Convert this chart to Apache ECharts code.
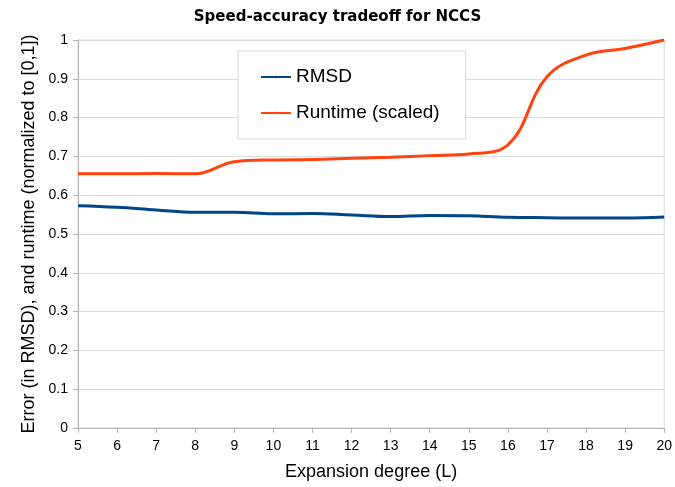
<!DOCTYPE html>
<html>
<head>
<meta charset="utf-8">
<script src="https://cdn.jsdelivr.net/npm/echarts@6/dist/echarts.min.js"></script>
<style>html,body{margin:0;padding:0;background:#fff}#c{width:675px;height:487px}</style>
</head>
<body>
<div id="c"></div>
<script>
const titleText = 'Speed-accuracy tradeoff for NCCS';
const xName = 'Expansion degree (L)';
const yName = 'Error (in RMSD), and runtime (normalized to [0,1])';
const degrees = [5, 6, 7, 8, 9, 10, 11, 12, 13, 14, 15, 16, 17, 18, 19, 20];
const rmsd = [0.573, 0.569, 0.562, 0.556, 0.556, 0.552, 0.553, 0.549, 0.545, 0.548, 0.547, 0.543, 0.542, 0.541, 0.541, 0.544];
const runtime = [0.655, 0.655, 0.656, 0.655, 0.686, 0.691, 0.692, 0.695, 0.698, 0.702, 0.706, 0.73, 0.905, 0.961, 0.978, 1.0];
const seriesNames = ['RMSD', 'Runtime (scaled)'];
const colors = ['#004586', '#ff420e'];

const chart = echarts.init(document.getElementById('c'), null, {renderer: 'canvas'});
chart.setOption({
  animation: false,
  backgroundColor: '#fff',
  title: {
    text: titleText,
    left: 'center',
    top: 3,
    textStyle: {fontFamily: "'DejaVu Sans Condensed', 'Liberation Sans', sans-serif", fontWeight: 'bold', fontSize: 16.7, color: '#000'}
  },
  grid: {left: 78, right: 10, top: 40, bottom: 59, show: true, borderColor: '#d9d9d9', borderWidth: 1, backgroundColor: 'transparent'},
  legend: {
    orient: 'vertical',
    left: 238,
    top: 51,
    padding: [16, 26, 16, 22],
    itemWidth: 30,
    itemHeight: 3,
    itemGap: 16,
    backgroundColor: '#fff',
    borderColor: '#d9d9d9',
    borderWidth: 1,
    textStyle: {fontFamily: 'Liberation Sans', fontSize: 19, lineHeight: 20, color: '#000'},
    data: seriesNames
  },
  xAxis: {
    type: 'value',
    min: 5,
    max: 20,
    interval: 1,
    name: xName,
    nameLocation: 'middle',
    nameGap: 35,
    nameTextStyle: {fontFamily: 'Liberation Sans', fontSize: 18, color: '#000'},
    axisLine: {show: true, lineStyle: {color: '#b3b3b3'}},
    axisTick: {show: true, length: 5, lineStyle: {color: '#b3b3b3'}},
    axisLabel: {fontFamily: 'Liberation Sans', fontSize: 14, color: '#000', margin: 11},
    splitLine: {show: false}
  },
  yAxis: {
    type: 'value',
    min: 0,
    max: 1,
    interval: 0.1,
    name: yName,
    nameLocation: 'middle',
    nameGap: 33,
    nameTextStyle: {fontFamily: 'Liberation Sans', fontSize: 18, color: '#000'},
    axisLine: {show: true, lineStyle: {color: '#b3b3b3'}},
    axisTick: {show: true, length: 5, lineStyle: {color: '#b3b3b3'}},
    axisLabel: {fontFamily: 'Liberation Sans', fontSize: 14, color: '#000', margin: 10},
    splitLine: {show: true, lineStyle: {color: '#dddddd', width: 1}}
  },
  series: [
    {
      name: seriesNames[0],
      type: 'line',
      smooth: 0.4,
      symbol: 'none',
      color: colors[0],
      lineStyle: {color: colors[0], width: 3},
      data: degrees.map((d, i) => [d, rmsd[i]])
    },
    {
      name: seriesNames[1],
      type: 'line',
      smooth: 0.4,
      symbol: 'none',
      color: colors[1],
      lineStyle: {color: colors[1], width: 3},
      data: degrees.map((d, i) => [d, runtime[i]])
    }
  ]
});
</script>
</body>
</html>
